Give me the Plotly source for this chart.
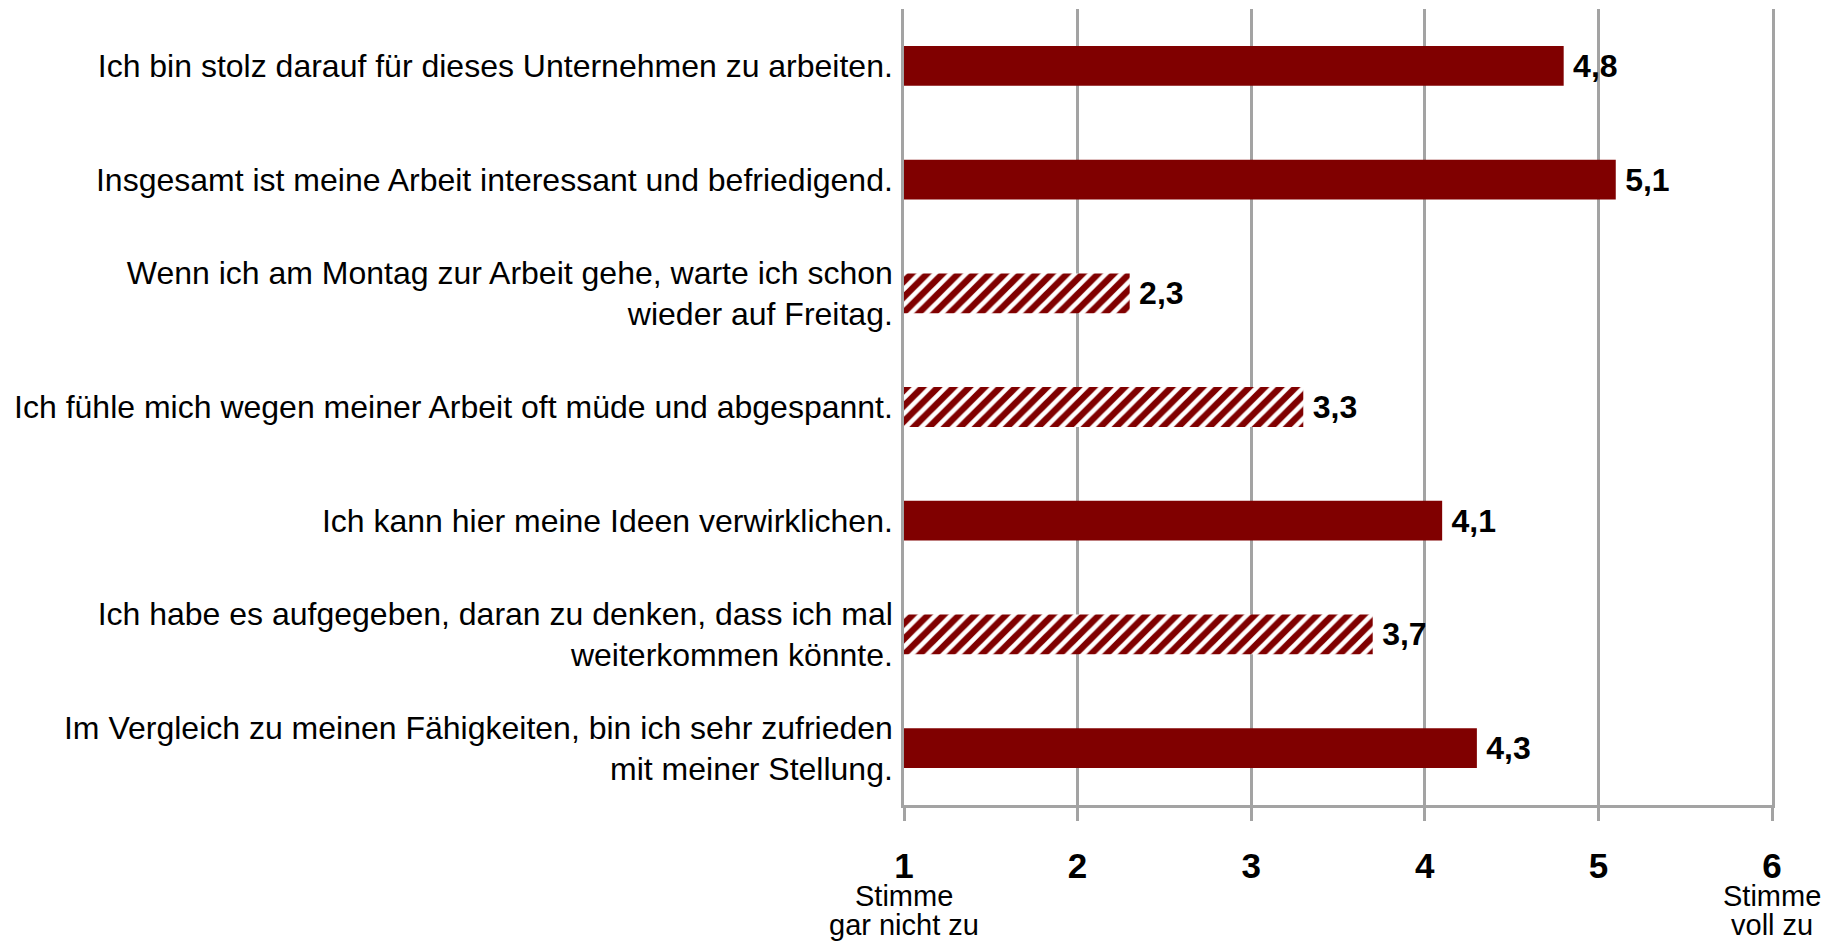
import plotly.graph_objects as go

statements = [
    "Ich bin stolz darauf für dieses Unternehmen zu arbeiten.",
    "Insgesamt ist meine Arbeit interessant und befriedigend.",
    "Wenn ich am Montag zur Arbeit gehe, warte ich schon<br>wieder auf Freitag.",
    "Ich fühle mich wegen meiner Arbeit oft müde und abgespannt.",
    "Ich kann hier meine Ideen verwirklichen.",
    "Ich habe es aufgegeben, daran zu denken, dass ich mal<br>weiterkommen könnte.",
    "Im Vergleich zu meinen Fähigkeiten, bin ich sehr zufrieden<br>mit meiner Stellung.",
]
scores = [4.8, 5.1, 2.3, 3.3, 4.1, 3.7, 4.3]
negatively_worded = [False, False, True, True, False, True, False]

scale_ticks = [1, 2, 3, 4, 5, 6]
scale_tick_labels = ["1", "2", "3", "4", "5", "6"]
low_anchor_lines = ["Stimme", "gar nicht zu"]
high_anchor_lines = ["Stimme", "voll zu"]

DARK_RED = "#800000"
GRID = "#a3a3a3"
FONT = "Liberation Sans, Arial, sans-serif"

fig = go.Figure()
fig.add_trace(go.Bar(
    x=scores,
    y=statements,
    orientation="h",
    width=0.35,
    marker=dict(
        color=DARK_RED,
        line=dict(width=0),
        pattern=dict(
            shape=["/" if n else "" for n in negatively_worded],
            bgcolor=DARK_RED,
            fgcolor="white",
            fgopacity=1,
            size=11,
            solidity=0.42,
        ),
    ),
    texttemplate="\u2009<b>%{x:.1f}</b>",
    textposition="outside",
    textfont=dict(family=FONT, size=32, color="black"),
    cliponaxis=False,
    hoverinfo="skip",
))

annotations = []
for xv, lines in ((scale_ticks[0], low_anchor_lines), (scale_ticks[-1], high_anchor_lines)):
    for i, line in enumerate(lines):
        annotations.append(dict(
            x=xv, y=0, xref="x", yref="paper",
            text=line, showarrow=False,
            xanchor="center", yanchor="middle",
            yshift=-91 - 29 * i,
            font=dict(family=FONT, size=29, color="black"),
        ))

fig.update_layout(
    width=1832, height=936,
    margin=dict(l=896, r=68, t=1, b=139, autoexpand=False),
    plot_bgcolor="white", paper_bgcolor="white",
    separators=",.",
    showlegend=False,
    font=dict(family=FONT, color="black"),
    annotations=annotations,
    xaxis=dict(
        range=[1, 6],
        tickvals=scale_ticks,
        ticktext=scale_tick_labels,
        tickfont=dict(family=FONT, size=35, color="black", weight="bold"),
        showgrid=True, gridcolor=GRID, gridwidth=2.5,
        showline=True, linecolor=GRID, linewidth=2.5,
        ticks="outside", ticklen=13, tickwidth=2.5, tickcolor=GRID,
        ticklabelstandoff=15,
        zeroline=False,
        fixedrange=True,
    ),
    yaxis=dict(
        autorange="reversed",
        tickfont=dict(family=FONT, size=32, color="black"),
        showline=True, mirror=True, linecolor=GRID, linewidth=2.5,
        showgrid=False, ticks="", ticklen=0, ticklabelstandoff=2,
        fixedrange=True,
    ),
)

fig.write_html("out.html")
